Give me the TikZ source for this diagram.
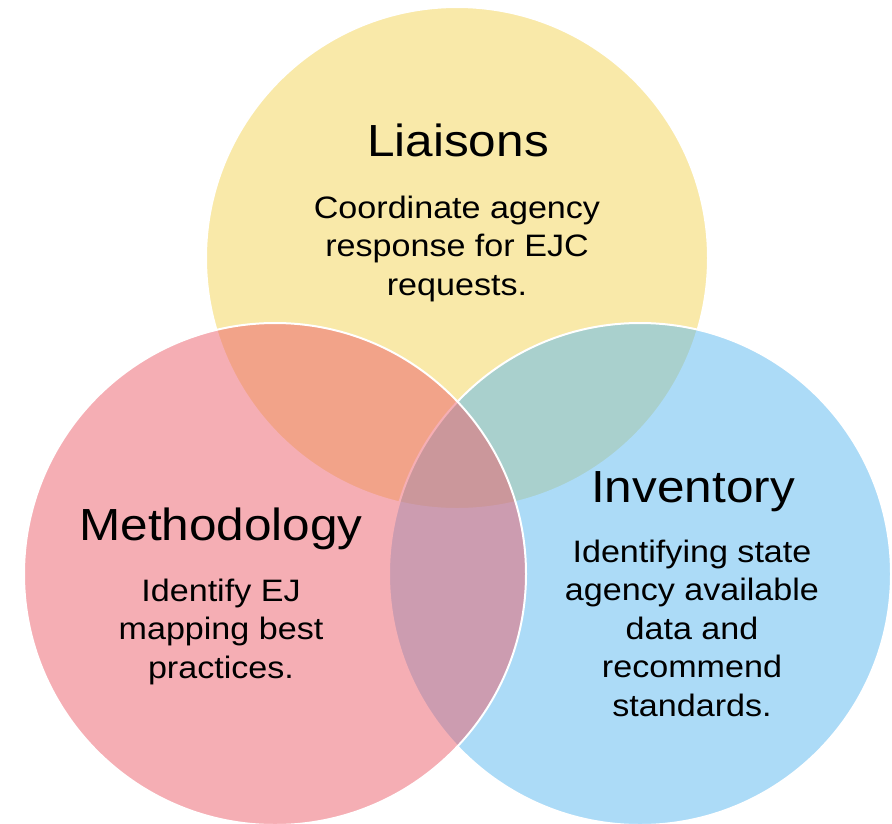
\documentclass[tikz,border=0pt]{standalone}
\usepackage{fontspec}
\setmainfont[FakeStretch=1.1]{Liberation Sans}
\definecolor{cyel}{RGB}{245,213,85}
\definecolor{cpink}{RGB}{237,95,107}
\definecolor{cblue}{RGB}{91,185,241}
\begin{document}
\begin{tikzpicture}[x=1pt,y=-1pt,
  venn/.style={draw=white,line width=2pt,fill opacity=0.5},
  title/.style={anchor=base,inner sep=0pt,font=\fontsize{45}{54}\selectfont},
  body/.style={anchor=base,inner sep=0pt,align=center,font=\fontsize{31}{38.5}\selectfont}]
\useasboundingbox (0,0) rectangle (892,823);
\fill[white] (0,0) rectangle (892,823);
\begin{scope}
\clip (0,0) rectangle (892,823);
\draw[venn,fill=cyel] (457,258) circle[radius=251];
\draw[venn,fill=cblue] (640,574) circle[radius=251];
\draw[venn,fill=cpink] (275,574) circle[radius=251];
\end{scope}
\node[title] (t1) at (458,156) {Liaisons};
\node[body] (b1) at (457,295) {Coordinate agency\\response for EJC\\requests.};
\node[title] (t2) at (221,540) {Methodology};
\node[body] (b2) at (221,678) {Identify EJ\\mapping best\\practices.};
\node[title] (t3) at (693,502) {Inventory};
\node[body] (b3) at (692,716) {Identifying state\\agency available\\data and\\recommend\\standards.};
\end{tikzpicture}
\end{document}
